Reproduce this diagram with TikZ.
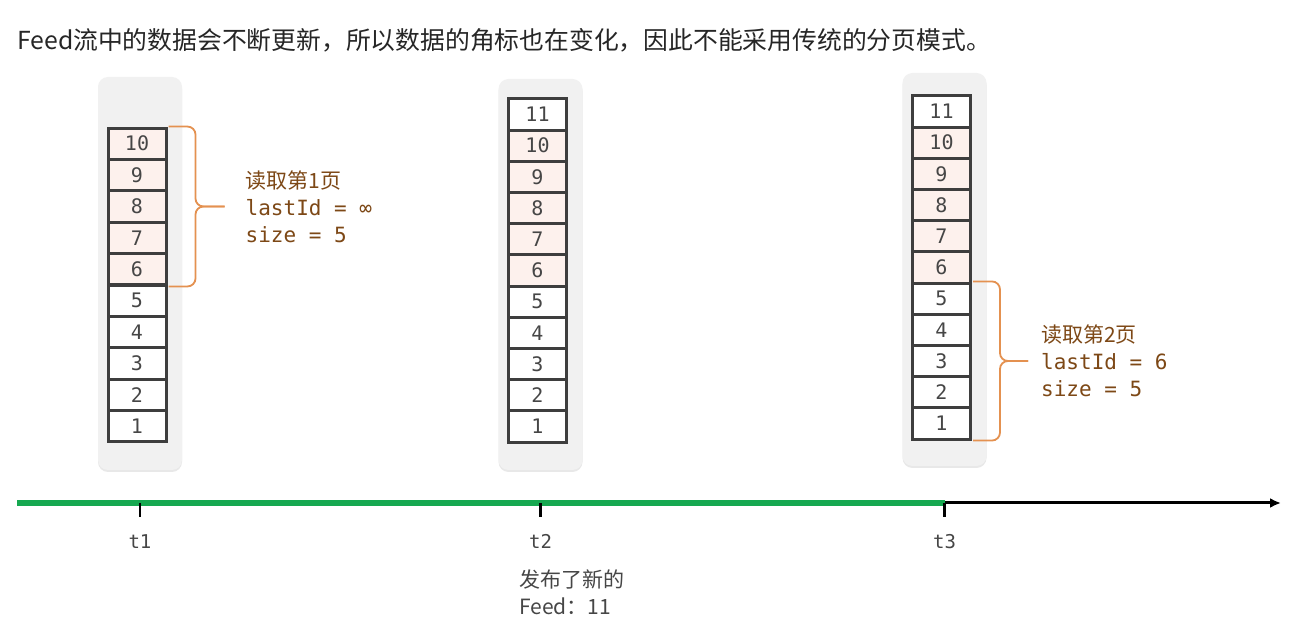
\documentclass[tikz,border=0pt]{standalone}
\usepackage{fontspec}
\newfontfamily\cjk{Noto Sans CJK SC}
\newfontfamily\mono{DejaVu Sans Mono}
\usetikzlibrary{arrows.meta,positioning,shadows}
\definecolor{cellline}{RGB}{62,62,62}
\definecolor{cellpink}{RGB}{253,241,237}
\definecolor{colbg}{RGB}{241,241,241}
\definecolor{bracecol}{RGB}{228,145,80}
\definecolor{notecol}{RGB}{125,72,22}
\definecolor{feedgreen}{RGB}{22,168,80}
\definecolor{textgray}{RGB}{70,70,70}

\begin{document}
\begin{tikzpicture}[x=1pt,y=-1pt,>=Latex,
  column/.style={fill=colbg,rounded corners=10pt,minimum width=84pt,inner sep=0pt,
    drop shadow={shadow xshift=0pt,shadow yshift=-2pt,opacity=0.18}},
  cell/.style={draw=cellline,line width=3pt,fill=white,minimum width=58pt,
    minimum height=31.3pt,inner sep=0pt,text=textgray,
    font=\mono\fontsize{20}{20}\selectfont},
  old/.style={cell,fill=cellpink},
  bracket/.style={draw=bracecol,line width=1.8pt,rounded corners=8pt},
  note/.style={font=\mono\fontsize{21}{27}\selectfont,text=notecol,
    align=left,anchor=west,inner sep=0pt},
  tick/.style={line width=2.8pt},
  tlbl/.style={font=\mono\fontsize{19}{19}\selectfont,text=textgray,inner sep=0pt}]

\useasboundingbox[fill=white] (0,0) rectangle (1294,617);

% title
\node[anchor=west,inner sep=0pt,text=black!85,font=\cjk\fontsize{24.8}{25}\selectfont]
  (title) at (17,40)
  {Feed流中的数据会不断更新，所以数据的角标也在变化，因此不能采用传统的分页模式。};

% t1: ten entries, first page read
\node[column,minimum height=393pt] (col1) at (140,273.5) {};
\foreach \i in {1,...,5}
  \node[cell] (a\i) at (137,{442-(\i-0.5)*31.4}) {\i};
\foreach \i in {6,...,10}
  \node[old] (a\i) at (137,{442-(\i-0.5)*31.4}) {\i};

% t2: entry 11 published
\node[column,minimum height=391pt] (col2) at (540.5,274.5) {};
\foreach \i in {1,...,5}
  \node[cell] (b\i) at (537.5,{442-(\i-0.5)*31.2}) {\i};
\foreach \i in {6,...,10}
  \node[old] (b\i) at (537.5,{442-(\i-0.5)*31.2}) {\i};
\node[cell] (b11) at (537.5,{442-10.5*31.2}) {11};

% t3: second page read
\node[column,minimum height=393pt] (col3) at (944.5,269.5) {};
\foreach \i in {1,...,5}
  \node[cell] (c\i) at (941.5,{439-(\i-0.5)*31.2}) {\i};
\foreach \i in {6,...,10}
  \node[old] (c\i) at (941.5,{439-(\i-0.5)*31.2}) {\i};
\node[cell] (c11) at (941.5,{439-10.5*31.2}) {11};

% brackets
\coordinate (tip1) at ([xshift=57pt]a8.east);
\draw[bracket] ([xshift=1pt]a10.north east) -- ++(27,0) |- (tip1);
\draw[bracket] ([xshift=1pt]a6.south east) -- ++(27,0) |- (tip1);
\node[note] (read1) at ([xshift=21pt]tip1)
  {{\cjk 读取第1页}\\lastId = ∞\\size = 5};

\coordinate (tip2) at ([xshift=56pt]c3.east);
\draw[bracket] ([xshift=1pt]c5.north east) -- ++(27,0) |- (tip2);
\draw[bracket] ([xshift=1pt]c1.south east) -- ++(27,0) |- (tip2);
\node[note] (read2) at ([xshift=13pt]tip2)
  {{\cjk 读取第2页}\\lastId = 6\\size = 5};

% time axis
\coordinate (tl0) at (17,503);
\coordinate (tlend) at (1281,503);
\coordinate (k1) at (col1 |- tl0);
\coordinate (k2) at (col2 |- tl0);
\coordinate (k3) at (col3 |- tl0);
\draw[-{Latex[length=11pt,width=10pt]},line width=3pt] (k3) -- (tlend);
\draw[feedgreen,line width=5.5pt] (tl0) -- (k3);
\foreach \k in {1,2,3}
  \draw[tick] (k\k) -- ++(0,14) node[tlbl,below=16pt] (tl\k) {t\k};

\node[anchor=west,inner sep=0pt,align=left,text=textgray,
  font=\cjk\fontsize{21}{27}\selectfont] (feed) at (519,592)
  {发布了新的\\Feed：11};
\end{tikzpicture}
\end{document}
